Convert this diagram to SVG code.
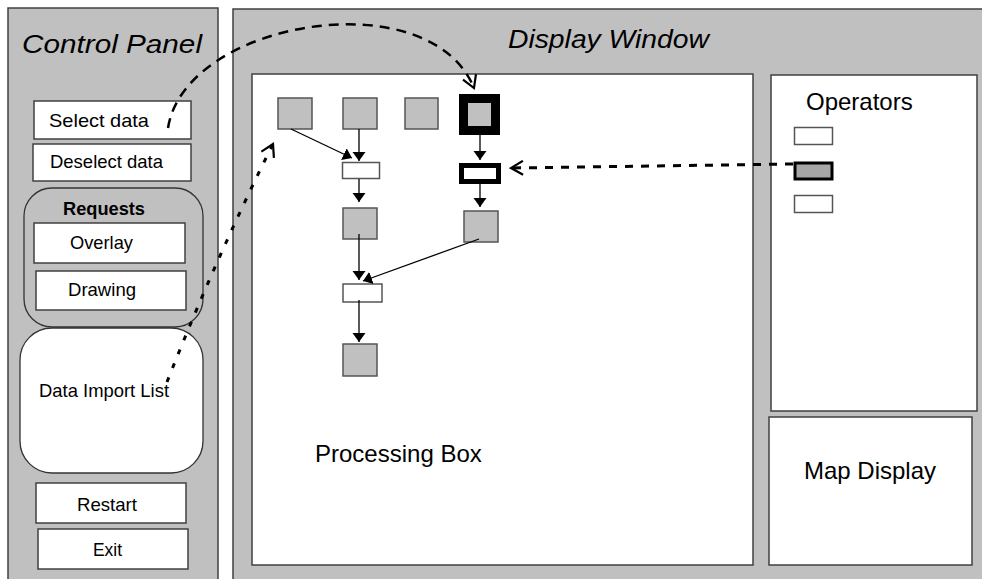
<svg xmlns="http://www.w3.org/2000/svg" width="982" height="579" viewBox="0 0 982 579">
<style>
  .panel{fill:#C0C0C0;stroke:#404040;stroke-width:1.5}
  .wbox{fill:#FFFFFF;stroke:#404040;stroke-width:1.5}
  .gbox{fill:#C0C0C0;stroke:#555555;stroke-width:1.5}
  .sbox{fill:#FFFFFF;stroke:#555555;stroke-width:1.5}
  .t{font-family:"Liberation Sans",Arial,sans-serif;fill:#000}
  .big{font-size:24px}
  .ttl{font-size:25px;font-style:italic}
  .btn{font-size:18.5px;text-anchor:middle}
  .arr{stroke:#000;stroke-width:1.3;fill:none;marker-end:url(#tri)}
</style>
<defs>
  <marker id="tri" markerUnits="userSpaceOnUse" viewBox="0 -7 9 14" refX="9" refY="0" markerWidth="9" markerHeight="14" orient="auto">
    <path d="M0,-6.5 L9,0 L0,6.5 z" fill="#000"/>
  </marker>
  <marker id="open" markerUnits="userSpaceOnUse" viewBox="-1 -8 15 16" refX="12" refY="0" markerWidth="15" markerHeight="16" orient="auto">
    <path d="M0,-7 L12,0 L0,7" fill="none" stroke="#000" stroke-width="2.2"/>
  </marker>
</defs>

<g id="control-panel">
  <rect class="panel" x="8" y="8" width="210" height="580"/>
  <text class="t ttl" x="22" y="53" textLength="180" lengthAdjust="spacingAndGlyphs">Control Panel</text>
</g>
<g id="select-data">
  <rect class="wbox" x="34" y="101" width="157" height="38"/>
  <text class="t btn" x="99" y="127" textLength="100" lengthAdjust="spacingAndGlyphs">Select data</text>
</g>
<g id="deselect-data">
  <rect class="wbox" x="33" y="144" width="158" height="37"/>
  <text class="t btn" x="106.5" y="168" textLength="113" lengthAdjust="spacingAndGlyphs">Deselect data</text>
</g>
<g id="requests">
  <rect x="24" y="188" width="179" height="139" rx="28" ry="28" fill="#C0C0C0" stroke="#333" stroke-width="1.3"/>
  <text class="t btn" x="104" y="215" font-weight="bold" textLength="82" lengthAdjust="spacingAndGlyphs">Requests</text>
</g>
<g id="overlay">
  <rect class="wbox" x="34" y="223" width="151" height="40"/>
  <text class="t btn" x="101.5" y="249" textLength="63" lengthAdjust="spacingAndGlyphs">Overlay</text>
</g>
<g id="drawing">
  <rect class="wbox" x="36" y="271" width="150" height="39"/>
  <text class="t btn" x="102" y="296" textLength="68" lengthAdjust="spacingAndGlyphs">Drawing</text>
</g>
<g id="data-import-list">
  <rect x="20" y="328" width="183" height="145" rx="32" ry="32" fill="#FFFFFF" stroke="#333" stroke-width="1.3"/>
  <text class="t btn" x="104" y="397" textLength="130" lengthAdjust="spacingAndGlyphs">Data Import List</text>
</g>
<g id="restart">
  <rect class="wbox" x="36" y="483" width="150" height="40"/>
  <text class="t btn" x="107" y="511" textLength="60" lengthAdjust="spacingAndGlyphs">Restart</text>
</g>
<g id="exit">
  <rect class="wbox" x="38" y="529" width="150" height="40"/>
  <text class="t btn" x="107.5" y="556" textLength="29" lengthAdjust="spacingAndGlyphs">Exit</text>
</g>

<g id="display-window">
  <rect class="panel" x="233" y="9" width="760" height="580"/>
  <text class="t ttl" x="508" y="48" textLength="201" lengthAdjust="spacingAndGlyphs">Display Window</text>
</g>
<g id="processing-box">
  <rect class="wbox" x="252" y="74" width="501" height="491"/>
  <text class="t big" x="315" y="462">Processing Box</text>
</g>
<g id="operators">
  <rect class="wbox" x="771" y="75" width="206" height="336"/>
  <text class="t big" x="806" y="110">Operators</text>
</g>
<g id="op1"><rect class="sbox" x="794.5" y="127.5" width="38" height="17"/></g>
<g id="op2"><rect x="795" y="163" width="37" height="16" fill="#A6A6A6" stroke="#000" stroke-width="3"/></g>
<g id="op3"><rect class="sbox" x="794.5" y="195.5" width="38" height="17"/></g>
<g id="map-display">
  <rect class="wbox" x="769" y="417" width="203" height="148"/>
  <text class="t big" x="804" y="479">Map Display</text>
</g>

<g id="box1"><rect class="gbox" x="278" y="98" width="34" height="31"/></g>
<g id="box2"><rect class="gbox" x="343" y="98" width="34" height="31"/></g>
<g id="box3"><rect class="gbox" x="405" y="98" width="33" height="31"/></g>
<g id="box4-selected"><rect x="463.5" y="98.5" width="32" height="32" fill="#C0C0C0" stroke="#000" stroke-width="9"/></g>
<g id="op-a"><rect class="sbox" x="342.5" y="162.5" width="37" height="16"/></g>
<g id="op-b-selected"><rect x="461.5" y="165.5" width="37" height="16" fill="#FFFFFF" stroke="#000" stroke-width="5"/></g>
<g id="box5"><rect class="gbox" x="343" y="208" width="34" height="31"/></g>
<g id="box6"><rect class="gbox" x="464" y="211" width="34" height="31"/></g>
<g id="op-c"><rect class="sbox" x="343" y="284" width="39" height="18"/></g>
<g id="box7"><rect class="gbox" x="343" y="344" width="34" height="32"/></g>

<g id="connectors">
  <path class="arr" d="M291,129 L352,158"/>
  <path class="arr" d="M359,129 L359,161"/>
  <path class="arr" d="M359,179 L359,202"/>
  <path class="arr" d="M359,234 L359,280"/>
  <path class="arr" d="M479,239 L363,281"/>
  <path class="arr" d="M359,300 L359,342"/>
  <path class="arr" d="M480,135 L480,160"/>
  <path class="arr" d="M480,184 L480,207"/>
  <path d="M168,128 C185,20 430,-20 474,88" fill="none" stroke="#000" stroke-width="2.5" stroke-dasharray="10 7" marker-end="url(#open)"/>
  <path d="M167,382 Q215,260 273,144" fill="none" stroke="#000" stroke-width="3" stroke-dasharray="5 10" marker-end="url(#open)"/>
  <path d="M793,164 L511,168" fill="none" stroke="#000" stroke-width="3" stroke-dasharray="8 8" marker-end="url(#open)"/>
</g>
</svg>
